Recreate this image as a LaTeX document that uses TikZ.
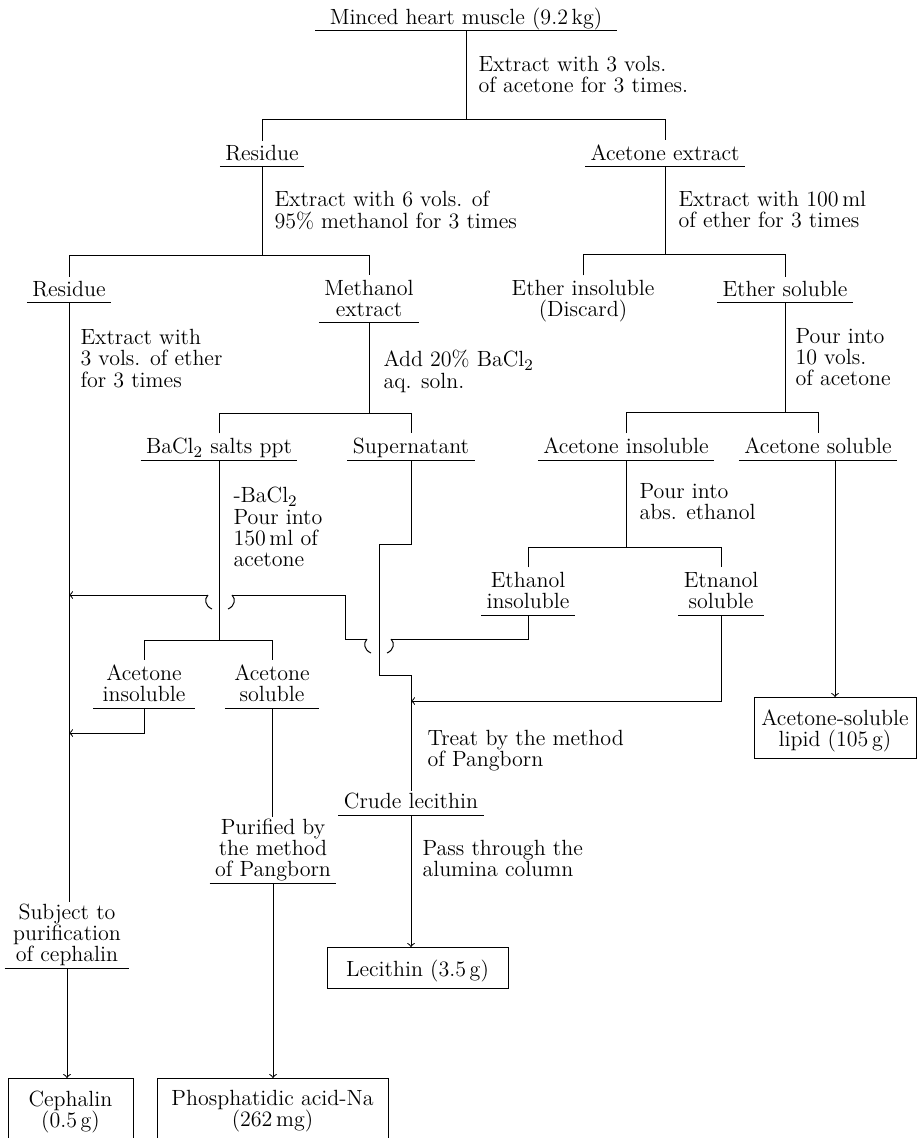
\documentclass[tikz,border=0pt]{standalone}
\usepackage{fontspec}
\begin{document}
\begin{tikzpicture}[x=0.5pt, y=-0.5pt, line width=0.5pt,
    every node/.style={font=\fontsize{11}{10.6}\selectfont},
    stage/.style={anchor=south, align=center, inner xsep=2.5pt, inner ysep=0.8pt, text depth=2pt},
    note/.style={anchor=north west, align=left, inner sep=0pt},
    result/.style={draw, anchor=north, align=center, inner xsep=3pt, inner ysep=6pt, text depth=0pt},
    openresult/.style={result, text depth=24pt}]

    % Size of the page
    \useasboundingbox (0,0) rectangle (917,1138);

    % Split of one stage into two fractions
    \newcommand{\drawsplit}[4]{
        \draw (#1.south) -- (#1.south |- 0,#2);
        \draw[shorten <=1.5pt, shorten >=1.5pt] (#3.north) -- (#3.north |- 0,#2) -- (#4.north |- 0,#2) -- (#4.north);
    }

    % Line passing under another one
    \newcommand{\drawhop}[1]{
        \draw[shift={(#1)}] (12,0) .. controls (16,4) and (15,11) .. (8,14)
            (-12,0) .. controls (-16,4) and (-15,11) .. (-8,14);
    }

    % Stages
    \node[stage, inner xsep=7pt] (mince) at (466,31) {Minced heart muscle (9.2\,kg)};
    \node[stage] (res1) at (262,167) {Residue};
    \node[stage] (acex) at (665,167) {Acetone extract};
    \node[stage] (res2) at (69,303) {Residue};
    \node[stage] (meth) at (369,323) {Methanol\\extract};
    \node[stage] (ethin) at (583,323) {Ether insoluble\\(Discard)};
    \node[stage] (ethsol) at (785,303) {Ether soluble};
    \node[stage] (bacl) at (219,460) {BaCl$_2$ salts ppt};
    \node[stage] (super) at (411,460) {Supernatant};
    \node[stage] (acin) at (626,460) {Acetone insoluble};
    \node[stage] (acsol) at (818,460) {Acetone soluble};
    \node[stage] (etin) at (528,615) {Ethanol\\insoluble};
    \node[stage] (etsol) at (721,615) {Etnanol\\soluble};
    \node[stage, inner xsep=4.5pt] (acin2) at (144,708) {Acetone\\insoluble};
    \node[stage, inner xsep=4.5pt] (acsol2) at (272,708) {Acetone\\soluble};
    \node[stage] (crude) at (411,815) {Crude lecithin};
    \node[stage] (purif) at (273,883) {Purified by\\the method\\of Pangborn};
    \node[stage, inner xsep=4pt] (subj) at (67,968) {Subject to\\purification\\of cephalin};

    % Products
    \node[result, minimum width=81pt] (lipid) at (835,697) {Acetone-soluble\\lipid (105\,g)};
    \node[result, minimum width=90.5pt] (lec) at (417.5,947) {Lecithin (3.5\,g)};
    \node[openresult, minimum width=115.5pt] (phos) at (272.5,1078) {Phosphatidic acid-Na\\(262\,mg)};
    \node[openresult, minimum width=62.5pt] (ceph) at (70.5,1078) {Cephalin\\(0.5\,g)};

    % Treatments
    \node[note] (n1) at (478,56) {Extract with 3 vols.\\of acetone for 3 times.};
    \node[note] (n2) at (274,191) {Extract with 6 vols. of\\95\% methanol for 3 times};
    \node[note] (n3) at (678,191) {Extract with 100\,ml\\of ether for 3 times};
    \node[note] (n4) at (80,329) {Extract with\\3 vols. of ether\\for 3 times};
    \node[note] (n5) at (383,350) {Add 20\% BaCl$_2$\\aq. soln.};
    \node[note] (n6) at (795,328) {Pour into\\10 vols.\\of acetone};
    \node[note] (n7) at (233,487) {-BaCl$_2$\\Pour into\\150\,ml of\\acetone};
    \node[note] (n8) at (639,483) {Pour into\\abs. ethanol};
    \node[note] (n9) at (427,730) {Treat by the method\\of Pangborn};
    \node[note] (n10) at (422,840) {Pass through the\\alumina column};

    % Underline the stages
    \foreach \n in {mince,res1,acex,res2,meth,ethsol,bacl,super,acin,acsol,etin,etsol,acin2,acsol2,crude,purif,subj} {
        \draw (\n.south west) -- (\n.south east);
    }

    % Splits
    \drawsplit{mince}{120}{res1}{acex}
    \drawsplit{res1}{256}{res2}{meth}
    \drawsplit{acex}{255}{ethin}{ethsol}
    \drawsplit{meth}{413}{bacl}{super}
    \drawsplit{ethsol}{412}{acin}{acsol}
    \drawsplit{acin}{547}{etin}{etsol}
    \drawsplit{bacl}{640}{acin2}{acsol2}

    % Bends and crossings
    \coordinate (stepa) at (379,544);
    \coordinate (stepb) at (379,675);
    \coordinate (hopa) at (379,639);
    \coordinate (hopb) at (220,595);
    \coordinate (bend) at (345,0);

    % Cephalin line
    \draw (res2.south) -- (res2.south |- subj.north);
    \draw[->] (subj.south) -- (subj.south |- ceph.north);
    \draw (etin.south) |- ([xshift=6pt]hopa);
    \draw ([xshift=-6pt]hopa) -| (hopb -| bend) -- ([xshift=6pt]hopb);
    \draw[->] ([xshift=-6pt]hopb) -- (hopb -| res2.south);
    \drawhop{hopa}
    \drawhop{hopb}
    \draw[->] (acin2.south) |- (res2.south |- 0,733);

    % Phosphatidic acid line
    \draw (acsol2.south) -- (acsol2.south |- purif.north);
    \draw[->] (purif.south) -- (purif.south |- phos.north);

    % Lecithin line
    \draw (super.south) |- (stepa) -- (stepb) -| (crude.north);
    \draw[->] (etsol.south) |- (crude.north |- 0,701);
    \draw[->] (crude.south) -- (crude.south |- lec.north);

    % Acetone-soluble lipid
    \draw[->] (lipid.north |- acsol.south) -- (lipid.north);
\end{tikzpicture}
\end{document}
